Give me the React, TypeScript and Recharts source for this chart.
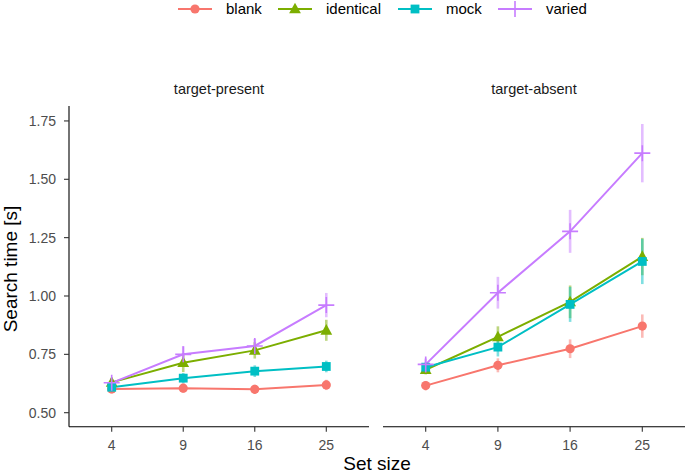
import React from 'react';
import { LineChart, Line, XAxis, YAxis, ErrorBar } from 'recharts';

// ---- data ----
const setSizes = ['4', '9', '16', '25'];
const yTicks = [0.5, 0.75, 1.0, 1.25, 1.5, 1.75];
const panelTitles = ['target-present', 'target-absent'];
const seriesNames = ['blank', 'identical', 'mock', 'varied'];
const seriesColors = ['#F8766D', '#7CAE00', '#00BFC4', '#C77CFF'];
const seriesShapes = ['circle', 'triangle', 'square', 'plus'];

// target-present means and error half-widths
const presentBlank = [0.602, 0.605, 0.600, 0.619];
const presentBlankErr = [0.02, 0.02, 0.02, 0.022];
const presentIdentical = [0.630, 0.714, 0.767, 0.853];
const presentIdenticalErr = [0.02, 0.04, 0.035, 0.045];
const presentMock = [0.609, 0.648, 0.678, 0.698];
const presentMockErr = [0.02, 0.022, 0.025, 0.025];
const presentVaried = [0.628, 0.750, 0.786, 0.961];
const presentVariedErr = [0.02, 0.035, 0.03, 0.052];

// target-absent means and error half-widths
const absentBlank = [0.616, 0.703, 0.774, 0.871];
const absentBlankErr = [0.02, 0.03, 0.04, 0.05];
const absentIdentical = [0.684, 0.825, 0.975, 1.169];
const absentIdenticalErr = [0.02, 0.045, 0.07, 0.08];
const absentMock = [0.695, 0.781, 0.964, 1.148];
const absentMockErr = [0.02, 0.04, 0.075, 0.097];
const absentVaried = [0.707, 1.014, 1.277, 1.612];
const absentVariedErr = [0.025, 0.068, 0.092, 0.125];

const buildRows = (vals: number[][], errs: number[][]) =>
  setSizes.map((size, i) => {
    const row: Record<string, any> = { size };
    seriesNames.forEach((name, s) => {
      row[name] = vals[s][i];
      row[name + '_err'] = errs[s][i];
    });
    return row;
  });

const presentRows = buildRows(
  [presentBlank, presentIdentical, presentMock, presentVaried],
  [presentBlankErr, presentIdenticalErr, presentMockErr, presentVariedErr]
);
const absentRows = buildRows(
  [absentBlank, absentIdentical, absentMock, absentVaried],
  [absentBlankErr, absentIdenticalErr, absentMockErr, absentVariedErr]
);

const FONT = '"Liberation Sans", Arial, Helvetica, sans-serif';

const Marker = ({ shape, color, cx, cy }: { shape: string; color: string; cx: number; cy: number }) => {
  if (shape === 'circle') return <circle cx={cx} cy={cy} r={4.6} fill={color} />;
  if (shape === 'triangle') {
    const s = 6.2;
    return (
      <polygon
        points={`${cx},${cy - s} ${cx - s * 0.95},${cy + s * 0.7} ${cx + s * 0.95},${cy + s * 0.7}`}
        fill={color}
      />
    );
  }
  if (shape === 'square') return <rect x={cx - 4.4} y={cy - 4.4} width={8.8} height={8.8} fill={color} />;
  return (
    <g stroke={color} strokeWidth={1.6}>
      <line x1={cx - 8} y1={cy} x2={cx + 8} y2={cy} />
      <line x1={cx} y1={cy - 8} x2={cx} y2={cy + 8} />
    </g>
  );
};

const makeDot = (shape: string, color: string) => (props: any) => {
  const { cx, cy, index } = props;
  if (cx == null || cy == null) return <g key={`d-${index}`} />;
  return (
    <g key={`d-${shape}-${index}`}>
      <Marker shape={shape} color={color} cx={cx} cy={cy} />
    </g>
  );
};

const CHART_H = 476;
const TOP = 106;
const XAXIS_H = 30;
const BOTTOM = CHART_H - 426.7 - XAXIS_H;

const Panel = ({ rows, showY, width }: { rows: any[]; showY: boolean; width: number }) => (
  <LineChart
    width={width}
    height={CHART_H}
    data={rows}
    margin={{ top: TOP, right: showY ? 1 : 0, bottom: BOTTOM, left: 0 }}
  >
    <XAxis
      dataKey="size"
      type="category"
      padding={{ left: 42.7, right: 42.7 }}
      height={XAXIS_H}
      tickSize={5}
      tickMargin={8}
      axisLine={{ stroke: '#000', strokeWidth: 1.1 }}
      tickLine={{ stroke: '#333', strokeWidth: 1.1 }}
      tick={{ fill: '#4D4D4D', fontSize: 14, fontFamily: FONT }}
      interval={0}
    />
    <YAxis
      type="number"
      domain={[0.44, 1.814]}
      ticks={yTicks}
      allowDataOverflow
      hide={!showY}
      width={69}
      tickSize={5}
      tickMargin={8}
      tickFormatter={(v: number) => v.toFixed(2)}
      axisLine={{ stroke: '#000', strokeWidth: 1.1 }}
      tickLine={{ stroke: '#333', strokeWidth: 1.1 }}
      tick={{ fill: '#4D4D4D', fontSize: 14, fontFamily: FONT }}
    />
    {seriesNames.map((name, s) => (
      <Line
        key={name}
        dataKey={name}
        stroke={seriesColors[s]}
        strokeWidth={2}
        isAnimationActive={false}
        dot={makeDot(seriesShapes[s], seriesColors[s])}
        activeDot={false}
      >
        <ErrorBar
          dataKey={name + '_err'}
          width={0}
          strokeWidth={2.6}
          stroke={seriesColors[s]}
          strokeOpacity={0.5}
          direction="y"
          isAnimationActive={false}
        />
      </Line>
    ))}
  </LineChart>
);

const legendX = [178, 278, 398, 498];

export default function App() {
  return (
    <div
      style={{
        position: 'absolute',
        left: 0,
        top: 0,
        width: 685,
        height: 476,
        background: '#fff',
        fontFamily: FONT,
        overflow: 'hidden',
      }}
    >
      <div style={{ position: 'absolute', left: 0, top: 0 }}>
        <Panel rows={presentRows} showY={true} width={370} />
      </div>
      <div style={{ position: 'absolute', left: 383, top: 0 }}>
        <Panel rows={absentRows} showY={false} width={302} />
      </div>

      {/* facet strip labels */}
      <div style={{ position: 'absolute', left: 69, width: 300, top: 80, textAlign: 'center', fontSize: 14.5, color: '#1A1A1A', lineHeight: '18px' }}>
        {panelTitles[0]}
      </div>
      <div style={{ position: 'absolute', left: 383, width: 302, top: 80, textAlign: 'center', fontSize: 14.5, color: '#1A1A1A', lineHeight: '18px' }}>
        {panelTitles[1]}
      </div>

      {/* axis titles */}
      <div style={{ position: 'absolute', left: 277, width: 200, top: 453, textAlign: 'center', fontSize: 19, color: '#000', lineHeight: '22px' }}>
        Set size
      </div>
      <div
        style={{
          position: 'absolute',
          left: 11 - 100,
          top: 269 - 11,
          width: 200,
          height: 22,
          lineHeight: '22px',
          textAlign: 'center',
          fontSize: 19,
          color: '#000',
          transform: 'rotate(-90deg)',
          transformOrigin: '100px 11px',
        }}
      >
        Search time [s]
      </div>

      {/* legend */}
      {seriesNames.map((name, s) => (
        <div key={name} style={{ position: 'absolute', left: legendX[s], top: 0, height: 20 }}>
          <svg width={34} height={20} style={{ position: 'absolute', left: 0, top: 0 }}>
            <line x1={0} y1={9} x2={34} y2={9} stroke={seriesColors[s]} strokeWidth={2} />
            <Marker shape={seriesShapes[s]} color={seriesColors[s]} cx={17} cy={9} />
          </svg>
          <div style={{ position: 'absolute', left: 48, top: 0, fontSize: 15, lineHeight: '18px', color: '#000', whiteSpace: 'nowrap' }}>
            {name}
          </div>
        </div>
      ))}
    </div>
  );
}
